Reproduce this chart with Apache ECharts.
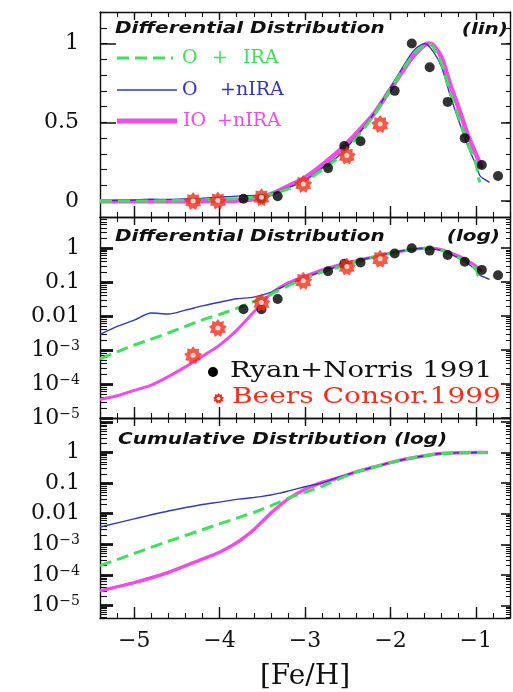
<!DOCTYPE html>
<html>
<head>
<meta charset="utf-8">
<script src="https://cdn.jsdelivr.net/npm/echarts@6/dist/echarts.min.js"></script>
<style>
  html, body { margin: 0; padding: 0; background: #fff; }
  #chart { width: 513px; height: 692px; }
</style>
</head>
<body>
<div id="chart"></div>
<script>
// ---- Metallicity distribution of halo stars: models vs. observations ----

// [Fe/H] grid of the differential model curves
const feDiffGreen = [-5.4, -5.2, -5.0, -4.8, -4.6, -4.4, -4.2, -4.0, -3.8, -3.6, -3.4, -3.2, -3.0, -2.8, -2.6, -2.4, -2.2, -2.0, -1.8, -1.7, -1.6, -1.55, -1.5, -1.4, -1.3, -1.2, -1.1, -1.0, -0.97, -0.95];
const feDiffBlue  = [-5.4, -5.2, -5.0, -4.8, -4.6, -4.4, -4.2, -4.0, -3.8, -3.6, -3.4, -3.2, -3.0, -2.8, -2.6, -2.4, -2.2, -2.0, -1.8, -1.7, -1.6, -1.5, -1.4, -1.3, -1.2, -1.1, -1.0, -0.95, -0.9, -0.84];
const feDiffPink  = [-5.4, -5.2, -5.0, -4.8, -4.6, -4.4, -4.2, -4.0, -3.8, -3.6, -3.4, -3.2, -3.0, -2.8, -2.6, -2.4, -2.2, -2.0, -1.8, -1.7, -1.6, -1.55, -1.5, -1.4, -1.3, -1.2, -1.1, -1.0, -0.93];

// Differential distributions (normalised to peak = 1)
const diffOIRA   = [0.00055, 0.00089, 0.0014, 0.0021, 0.0032, 0.0050, 0.0078, 0.0112, 0.0170, 0.027, 0.044, 0.078, 0.125, 0.20, 0.28, 0.40, 0.54, 0.71, 0.88, 0.95, 0.99, 1.0, 0.98, 0.87, 0.69, 0.53, 0.37, 0.24, 0.15, 0.12];
const diffONIRA  = [0.0029, 0.0050, 0.0076, 0.0123, 0.0115, 0.0150, 0.0200, 0.0257, 0.0324, 0.0363, 0.050, 0.085, 0.13, 0.21, 0.29, 0.41, 0.55, 0.72, 0.90, 0.97, 1.0, 0.95, 0.85, 0.67, 0.51, 0.36, 0.23, 0.16, 0.14, 0.12];
const diffIONIRA = [0.000035, 0.000045, 0.000065, 0.000093, 0.000166, 0.00032, 0.00066, 0.0014, 0.0038, 0.0132, 0.045, 0.095, 0.15, 0.23, 0.32, 0.43, 0.55, 0.71, 0.87, 0.94, 0.99, 1.0, 0.99, 0.91, 0.74, 0.59, 0.43, 0.30, 0.21];

// Cumulative distributions
const feCum      = [-5.4, -5.0, -4.6, -4.2, -4.0, -3.8, -3.7, -3.6, -3.5, -3.4, -3.3, -3.2, -3.0, -2.8, -2.6, -2.4, -2.2, -2.0, -1.8, -1.6, -1.4, -1.2, -1.0, -0.86];
const cumOIRA    = [0.00020, 0.00050, 0.00126, 0.0030, 0.0047, 0.0071, 0.0089, 0.011, 0.0141, 0.018, 0.024, 0.032, 0.050, 0.079, 0.138, 0.234, 0.33, 0.47, 0.63, 0.79, 0.93, 0.98, 1.0, 1.0];
const cumONIRA   = [0.0037, 0.0068, 0.0123, 0.020, 0.024, 0.0295, 0.0316, 0.034, 0.037, 0.041, 0.047, 0.055, 0.076, 0.102, 0.158, 0.234, 0.33, 0.47, 0.63, 0.79, 0.93, 0.98, 1.0, 1.0];
const cumIONIRA  = [0.000030, 0.000056, 0.00012, 0.00033, 0.00055, 0.00112, 0.00178, 0.0030, 0.0056, 0.0105, 0.018, 0.030, 0.063, 0.105, 0.151, 0.234, 0.33, 0.47, 0.63, 0.79, 0.93, 0.98, 1.0, 1.0];

// Observed samples
const ryanFe   = [-3.72, -3.51, -3.32, -2.73, -2.54, -2.35, -1.95, -1.75, -1.54, -1.33, -1.13, -0.93, -0.74];
const ryanN    = [0.016, 0.016, 0.032, 0.21, 0.35, 0.38, 0.70, 1.0, 0.85, 0.63, 0.40, 0.23, 0.16];
const beersFe  = [-4.31, -4.02, -3.51, -3.02, -2.51, -2.12];
const beersN   = [0.0007, 0.0045, 0.025, 0.11, 0.29, 0.49];

// Tick values
const xTicks   = [-5, -4, -3, -2, -1];
const linTicks = [0, 0.5, 1];
const logTicks = [0.00001, 0.0001, 0.001, 0.01, 0.1, 1];

// ---- styling ----
const GREEN = '#42de5e';
const BLUE = '#3438b8';
const PINK = '#f04ce6';
const RED = '#f0301c';
const INK = '#111';
const SERIF = '"DejaVu Serif", serif';

const X_MIN = -5.4, X_MAX = -0.6;
const LOG_TOP_MID = 8.3;
const LOG_TOP_CUM = 13.5;
const LOG_BOT_CUM = 0.0000039;

function pairs(xs, ys) { return xs.map((x, i) => [x, ys[i]]); }

// exponents of the 2..9 sub-decade ticks inside [lo, hi]
function minorLogExps(lo, hi) {
  const out = [];
  for (let e = -6; e <= 1; e++) {
    for (let k = 2; k <= 9; k++) {
      const v = k * Math.pow(10, e);
      if (v > lo && v < hi) out.push(Math.log10(v));
    }
  }
  return out;
}

// Gear-like star outline, as a list of points around (cx, cy)
function gearPoints(cx, cy, n, rOut, rIn) {
  const pts = [];
  for (let i = 0; i < 2 * n; i++) {
    const a = i * Math.PI / n - Math.PI / 2;
    const r = i % 2 ? rIn : rOut;
    pts.push([cx + r * Math.cos(a), cy + r * Math.sin(a)]);
  }
  return pts;
}
const STAR = 'path://' + gearPoints(50, 50, 9, 50, 36)
  .map((p, i) => (i ? 'L' : 'M') + p[0].toFixed(2) + ' ' + p[1].toFixed(2)).join(' ') + ' Z';

const grids = [
  { left: 100, width: 410, top: 12, height: 205 },
  { left: 100, width: 410, top: 217, height: 201 },
  { left: 100, width: 410, top: 418, height: 209 }
];

const lineStyleAxis = { color: INK, width: 1.4 };
const noLine = { show: false, onZero: false };
const frameLine = { show: true, onZero: false, lineStyle: lineStyleAxis };
function ticks(len, width, values) {
  const t = { show: true, inside: true, length: len, lineStyle: { color: INK, width: width } };
  if (values) t.customValues = values;
  return t;
}

function xAxesFor(g, withLabels) {
  const base = { type: 'value', gridIndex: g, min: X_MIN, max: X_MAX, splitLine: { show: false }, axisLabel: { show: false } };
  const minor = (pos) => Object.assign({}, base, { position: pos, interval: 0.2, axisLine: frameLine, axisTick: ticks(5, 1.1) });
  const major = (pos, len) => Object.assign({}, base, { position: pos, axisLine: noLine, axisTick: ticks(len, 1.4, xTicks) });
  const bottomMajor = major('bottom', 11);
  if (withLabels) {
    bottomMajor.axisLabel = {
      show: true, customValues: xTicks, margin: 12,
      fontFamily: SERIF, fontSize: 22, color: INK,
      formatter: v => '\u2212' + Math.abs(Math.round(v))
    };
    bottomMajor.name = '[Fe/H]';
    bottomMajor.nameLocation = 'middle';
    bottomMajor.nameGap = 45;
    bottomMajor.nameTextStyle = { fontFamily: SERIF, fontSize: 28, color: INK };
  }
  return [minor('bottom'), bottomMajor, minor('top'), major('top', 8)];
}

const xAxis = [].concat(xAxesFor(0, false), xAxesFor(1, false), xAxesFor(2, true));
const yAxis = [];
const dataY = [];

// linear panel: data axis first, then tick-only axes
(function linPanel(g) {
  const base = { type: 'value', gridIndex: g, min: -0.1, max: 1.2, splitLine: { show: false }, axisLabel: { show: false } };
  dataY[g] = yAxis.length;
  yAxis.push(
    Object.assign({}, base, { position: 'left', interval: 0.1, axisLine: frameLine, axisTick: ticks(7, 1.1) }),
    Object.assign({}, base, { position: 'left', axisLine: noLine, axisTick: ticks(16, 1.5, linTicks),
      axisLabel: { show: true, customValues: linTicks, margin: 21, fontFamily: SERIF, fontSize: 22, color: INK,
        formatter: v => String(Math.round(v * 10) / 10) } }),
    Object.assign({}, base, { position: 'right', interval: 0.1, axisLine: frameLine, axisTick: ticks(4, 1.1) }),
    Object.assign({}, base, { position: 'right', axisLine: noLine, axisTick: ticks(9, 1.5, linTicks) })
  );
})(0);

function logLabel(v) {
  const e = Math.round(Math.log10(v));
  if (e >= -2) return Math.pow(10, e).toFixed(Math.max(0, -e));
  return '{b|10}{s|\u2212' + (-e) + '}';
}

// log panels: a log data axis carrying the labels, plus exponent-space axes for the tick marks
function logPanel(g, lo, hi) {
  dataY[g] = yAxis.length;
  yAxis.push({
    type: 'log', logBase: 10, gridIndex: g, min: lo, max: hi, position: 'left',
    splitLine: { show: false }, axisLine: frameLine, axisTick: { show: false },
    axisLabel: { show: true, customValues: logTicks, margin: 20, fontFamily: SERIF, fontSize: 22, color: INK,
      formatter: logLabel,
      rich: {
        b: { fontFamily: SERIF, fontSize: 22, color: INK, verticalAlign: 'bottom' },
        s: { fontFamily: SERIF, fontSize: 14, color: INK, verticalAlign: 'top' }
      } }
  });
  const eLo = Math.log10(lo), eHi = Math.log10(hi);
  const decades = [-6, -5, -4, -3, -2, -1, 0, 1].filter(e => e >= eLo && e <= eHi);
  const minors = minorLogExps(lo, hi);
  const base = { type: 'value', gridIndex: g, min: eLo, max: eHi, splitLine: { show: false }, axisLabel: { show: false } };
  yAxis.push(
    Object.assign({}, base, { position: 'left', axisLine: noLine, axisTick: ticks(13, 2.8, decades) }),
    Object.assign({}, base, { position: 'left', axisLine: noLine, axisTick: ticks(7, 1.1, minors) }),
    Object.assign({}, base, { position: 'right', axisLine: frameLine, axisTick: ticks(9, 1.6, decades) }),
    Object.assign({}, base, { position: 'right', axisLine: noLine, axisTick: ticks(4, 1, minors) })
  );
}
logPanel(1, 0.00001, LOG_TOP_MID);
logPanel(2, LOG_BOT_CUM, LOG_TOP_CUM);

function curve(name, g, xs, ys, color, width, dash) {
  return {
    name: name, type: 'line', xAxisIndex: g * 4, yAxisIndex: dataY[g],
    data: pairs(xs, ys), showSymbol: false, symbol: 'none', smooth: 0.25,
    lineStyle: { color: color, width: width, type: dash ? [12, 6] : 'solid' },
    z: 3
  };
}

function observed(g) {
  return [
    { name: 'Ryan+Norris 1991', type: 'scatter', xAxisIndex: g * 4, yAxisIndex: dataY[g],
      data: pairs(ryanFe, ryanN), symbol: 'circle', symbolSize: 10,
      itemStyle: { color: '#000' }, z: 5 },
    { name: 'Beers Consor.1999', type: 'scatter', xAxisIndex: g * 4, yAxisIndex: dataY[g],
      data: pairs(beersFe, beersN), symbol: STAR, symbolSize: 18,
      itemStyle: { color: RED }, z: 6 },
    { name: 'Beers centre', type: 'scatter', xAxisIndex: g * 4, yAxisIndex: dataY[g],
      data: pairs(beersFe, beersN), symbol: 'circle', symbolSize: 5,
      itemStyle: { color: '#fff4e6' }, z: 7, silent: true }
  ];
}

const series = [].concat(
  [curve('IO +nIRA', 0, feDiffPink, diffIONIRA, PINK, 4.5),
   curve('O +nIRA', 0, feDiffBlue, diffONIRA, BLUE, 1.4),
   curve('O + IRA', 0, feDiffGreen, diffOIRA, GREEN, 3, true)],
  observed(0),
  [curve('IO +nIRA', 1, feDiffPink, diffIONIRA, PINK, 3),
   curve('O +nIRA', 1, feDiffBlue, diffONIRA, BLUE, 1.4),
   curve('O + IRA', 1, feDiffGreen, diffOIRA, GREEN, 3, true)],
  observed(1),
  [curve('IO +nIRA', 2, feCum, cumIONIRA, PINK, 3.5),
   curve('O +nIRA', 2, feCum, cumONIRA, BLUE, 1.4),
   curve('O + IRA', 2, feCum, cumOIRA, GREEN, 3, true)]
);

// Panel captions and keys
function txt(x, y, text, font, fill, align, sx) {
  return { type: 'text', x: x, y: y, scaleX: sx || 1, z: 20,
    style: { text: text, font: font, fill: fill, textAlign: align || 'left', textVerticalAlign: 'middle' } };
}
const HEAD = 'italic bold 16px "DejaVu Sans", sans-serif';
const HS = 1.25;
const KEY = '19px ' + SERIF;
const KEY2 = '23px ' + SERIF;

const graphic = [
  txt(115, 29, 'Differential Distribution', HEAD, INK, 'left', HS),
  txt(508, 30, '(lin)', HEAD, INK, 'right', HS),
  txt(115, 237, 'Differential Distribution', HEAD, INK, 'left', HS),
  txt(500, 237, '(log)', HEAD, INK, 'right', HS),
  txt(118, 440, 'Cumulative Distribution (log)', HEAD, INK, 'left', HS),

  { type: 'line', z: 20, shape: { x1: 117, y1: 58, x2: 173, y2: 58 }, style: { stroke: GREEN, lineWidth: 3, lineDash: [12, 6] } },
  txt(182, 58, 'O', KEY, GREEN),
  txt(212, 58, '+', KEY, GREEN),
  txt(243, 58, 'IRA', KEY, GREEN),
  { type: 'line', z: 20, shape: { x1: 117, y1: 90, x2: 177, y2: 90 }, style: { stroke: BLUE, lineWidth: 1.4 } },
  txt(182, 90, 'O', KEY, BLUE),
  txt(220, 90, '+nIRA', KEY, BLUE),
  { type: 'line', z: 20, shape: { x1: 117, y1: 121, x2: 177, y2: 121 }, style: { stroke: PINK, lineWidth: 5 } },
  txt(183, 121, 'IO', KEY, PINK),
  txt(217, 121, '+nIRA', KEY, PINK),

  { type: 'circle', z: 20, shape: { cx: 213, cy: 372, r: 5 }, style: { fill: '#000' } },
  txt(230, 371, 'Ryan+Norris 1991', KEY2, INK, 'left', 1.2),
  { type: 'polygon', z: 20, shape: { points: gearPoints(218.5, 398.5, 9, 5.5, 4) }, style: { fill: RED } },
  { type: 'circle', z: 21, shape: { cx: 218.5, cy: 398.5, r: 1.8 }, style: { fill: '#fff' } },
  txt(232, 397, 'Beers Consor.1999', KEY2, RED, 'left', 1.22)
];

const chart = echarts.init(document.getElementById('chart'), null, { renderer: 'canvas' });
chart.setOption({
  animation: false,
  backgroundColor: '#fff',
  grid: grids,
  xAxis: xAxis,
  yAxis: yAxis,
  series: series,
  graphic: graphic
});
</script>
</body>
</html>
